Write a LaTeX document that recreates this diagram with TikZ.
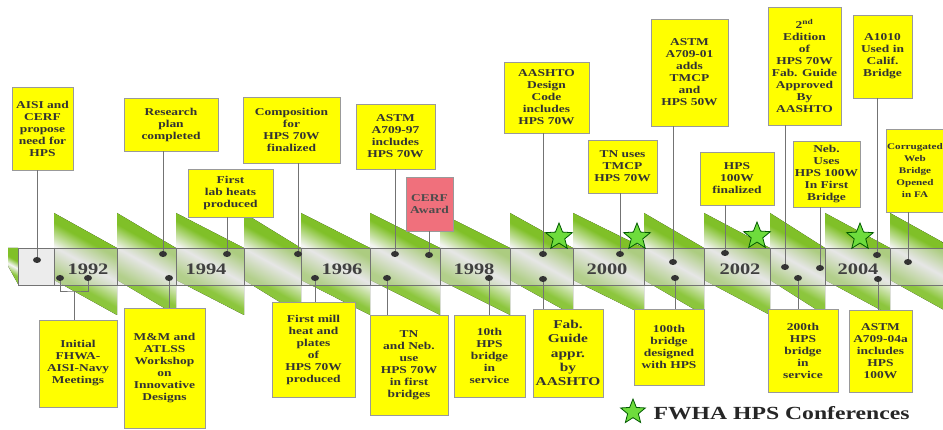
\documentclass[tikz,border=0pt]{standalone}
\usepackage{fontspec}
\setmainfont{Liberation Serif}[FakeStretch=1.28]
\usetikzlibrary{shapes.geometric}
\definecolor{ribgreen}{RGB}{128,192,40}
\definecolor{boxyellow}{RGB}{255,255,0}
\definecolor{awardpink}{RGB}{240,112,124}
\definecolor{stargreen}{RGB}{110,220,60}
\pgfdeclareverticalshading{ribshade}{100bp}{color(0bp)=(ribgreen); color(37bp)=(ribgreen!90!white);
  color(50bp)=(gray!8); color(62bp)=(ribgreen); color(100bp)=(ribgreen)}

\begin{document}
\begin{tikzpicture}[x=1pt,y=-1pt,
  ribbon/.style={shading=ribshade,shading angle=-29},
  event/.style={draw=black!40,line width=0.8pt,fill=boxyellow,align=center,inner sep=1pt,text=black!80,font=\fontsize{10.5}{12}\selectfont\bfseries},
  conn/.style={black!55,line width=0.7pt},
  evdot/.style={ellipse,fill=black!80,minimum width=8pt,minimum height=6pt,inner sep=0pt},
  conf/.style={star,star points=5,star point ratio=2.3,draw=green!35!black,line width=0.8pt,fill=stargreen,minimum size=28pt,inner sep=0pt},
  yr/.style={font=\fontsize{16}{16}\selectfont\bfseries,text=black!75}]
\useasboundingbox (0,0) rectangle (943,430);

% saw-tooth band behind the years
\fill[ribbon] (8,248) -- (18,248) -- (18,284) -- (8,266) -- cycle;
\foreach \a/\b in {54/117,117/176,176/244,244/301,301/370,370/440,440/510,510/573,573/644,644/704,704/770,770/825,825/890,890/953}
  \fill[ribbon] (\a,213) -- (\b,248) -- (\b,315) -- (\a,280) -- cycle;
\fill[gray!30,fill opacity=0.5] (18,248) rectangle (950,285);
\draw[black!55,line width=0.7pt] (18,248) -- (950,248) (18,285) -- (950,285);
\foreach \x in {18,54,117,176,244,301,370,440,510,573,644,704,770,825,890}
  \draw[black!55,line width=0.7pt] (\x,248) -- (\x,285);

\node[yr] (y92) at (88,269) {1992};
\node[yr] (y94) at (206,269) {1994};
\node[yr] (y96) at (342,269) {1996};
\node[yr] (y98) at (474,269) {1998};
\node[yr] (y00) at (607,269) {2000};
\node[yr] (y02) at (740,269) {2002};
\node[yr] (y04) at (858,269) {2004};

% events above the band
\node[event,minimum width=61pt,minimum height=83pt] (aisi) at (42.5,128.5) {AISI and\\CERF\\propose\\need for\\HPS};
\node[event,minimum width=94pt,minimum height=53pt] (research) at (171,124.5) {Research\\plan\\completed};
\node[event,minimum width=85pt,minimum height=48pt] (labheats) at (230.5,193) {First\\lab heats\\produced};
\node[event,minimum width=97pt,minimum height=66pt] (compos) at (291.5,130) {Composition\\for\\HPS 70W\\finalized};
\node[event,minimum width=79pt,minimum height=65pt] (astmA) at (395.5,136.5) {ASTM\\A709-97\\includes\\HPS 70W};
\node[event,fill=awardpink,text=black!70,minimum width=47pt,minimum height=54pt] (cerf) at (429.5,204) {CERF\\Award};
\node[event,minimum width=85pt,minimum height=71pt] (code) at (546.5,97.5) {AASHTO\\Design\\Code\\includes\\HPS 70W};
\node[event,minimum width=69pt,minimum height=53pt] (tmcp) at (622.5,166.5) {TN uses\\TMCP\\HPS 70W};
\node[event,minimum width=77pt,minimum height=107pt] (astmB) at (689.5,72.5) {ASTM\\A709-01\\adds\\TMCP\\and\\HPS 50W};
\node[event,minimum width=74pt,minimum height=53pt] (final100) at (737,178.5) {HPS\\100W\\finalized};
\node[event,minimum width=73pt,minimum height=118pt] (edition) at (804.5,66) {2\textsuperscript{nd}\\Edition\\of\\HPS 70W\\Fab. Guide\\Approved\\By\\AASHTO};
\node[event,minimum width=67pt,minimum height=66pt] (neb100) at (826.5,174) {Neb.\\Uses\\HPS 100W\\In First\\Bridge};
\node[event,minimum width=59pt,minimum height=83pt] (calif) at (882.5,56.5) {A1010\\Used in\\Calif.\\Bridge};
\node[event,font=\fontsize{8.7}{12}\selectfont\bfseries,minimum width=58pt,minimum height=83pt] (corrug) at (915,170.5) {Corrugated\\Web\\Bridge\\Opened\\in FA};

% events below the band
\node[event,minimum width=78pt,minimum height=87pt] (meet) at (78,363.5) {Initial\\FHWA-\\AISI-Navy\\Meetings};
\node[event,minimum width=81pt,minimum height=120pt] (workshop) at (164.5,368) {M\&M and\\ATLSS\\Workshop\\on\\Innovative\\Designs};
\node[event,minimum width=83pt,minimum height=95pt] (millheat) at (313.5,349.5) {First mill\\heat and\\plates\\of\\HPS 70W\\produced};
\node[event,minimum width=78pt,minimum height=100pt] (firstbr) at (409,365) {TN\\and Neb.\\use\\HPS 70W\\in first\\bridges};
\node[event,minimum width=71pt,minimum height=82pt] (tenth) at (489.5,356) {10th\\HPS\\bridge\\in\\service};
\node[event,font=\fontsize{12}{14.3}\selectfont\bfseries,minimum width=70pt,minimum height=88pt] (guide) at (568,353) {Fab.\\Guide\\appr.\\by\\AASHTO};
\node[event,minimum width=70pt,minimum height=76pt] (hundred) at (669,347) {100th\\bridge\\designed\\with HPS};
\node[event,minimum width=70pt,minimum height=83pt] (twohund) at (803,350.5) {200th\\HPS\\bridge\\in\\service};
\node[event,minimum width=63pt,minimum height=82pt] (astmC) at (880.5,351) {ASTM\\A709-04a\\includes\\HPS\\100W};

% dots on the band
\node[evdot] (u1) at (37,260) {};
\node[evdot] (u2) at (163,254) {};
\node[evdot] (u3) at (227,254) {};
\node[evdot] (u4) at (298,254) {};
\node[evdot] (u5) at (395,254) {};
\node[evdot] (u6) at (429,255) {};
\node[evdot] (u7) at (543,254) {};
\node[evdot] (u8) at (620,254) {};
\node[evdot] (u9) at (673,262) {};
\node[evdot] (u10) at (725,253) {};
\node[evdot] (u11) at (785,267) {};
\node[evdot] (u12) at (820,268) {};
\node[evdot] (u13) at (877,255) {};
\node[evdot] (u14) at (908,262) {};
\node[evdot] (l1a) at (60,278) {};
\node[evdot] (l1b) at (88,278) {};
\node[evdot] (l2) at (169,278) {};
\node[evdot] (l3) at (315,278) {};
\node[evdot] (l4) at (387,278) {};
\node[evdot] (l5) at (489,278) {};
\node[evdot] (l6) at (543,279) {};
\node[evdot] (l7) at (675,278) {};
\node[evdot] (l8) at (798,278) {};
\node[evdot] (l9) at (878,279) {};

\draw[conn] (u1) -- (u1 |- aisi.south);
\draw[conn] (u2) -- (u2 |- research.south);
\draw[conn] (u3) -- (u3 |- labheats.south);
\draw[conn] (u4) -- (u4 |- compos.south);
\draw[conn] (u5) -- (u5 |- astmA.south);
\draw[conn] (u6) -- (u6 |- cerf.south);
\draw[conn] (u7) -- (u7 |- code.south);
\draw[conn] (u8) -- (u8 |- tmcp.south);
\draw[conn] (u9) -- (u9 |- astmB.south);
\draw[conn] (u10) -- (u10 |- final100.south);
\draw[conn] (u11) -- (u11 |- edition.south);
\draw[conn] (u12) -- (u12 |- neb100.south);
\draw[conn] (u13) -- (u13 |- calif.south);
\draw[conn] (u14) -- (u14 |- corrug.south);
\coordinate (j1) at (74,291);
\draw[conn] (l1a) |- (j1) -| (l1b);
\draw[conn] (j1) -- (j1 |- meet.north);
\draw[conn] (l2) -- (l2 |- workshop.north);
\draw[conn] (l3) -- (l3 |- millheat.north);
\draw[conn] (l4) -- (l4 |- firstbr.north);
\draw[conn] (l5) -- (l5 |- tenth.north);
\draw[conn] (l6) -- (l6 |- guide.north);
\draw[conn] (l7) -- (l7 |- hundred.north);
\draw[conn] (l8) -- (l8 |- twohund.north);
\draw[conn] (l9) -- (l9 |- astmC.north);

% conferences
\node[conf] (c1) at (559,237) {};
\node[conf] (c2) at (637,237) {};
\node[conf] (c3) at (757,236) {};
\node[conf] (c4) at (860,237) {};
\node[conf,minimum size=26pt] (lgstar) at (633,412) {};
\node[anchor=west,font=\fontsize{18.5}{18.5}\selectfont\bfseries,text=black!85] (lgtext) at (650,413) {FWHA HPS Conferences};
\end{tikzpicture}
\end{document}
